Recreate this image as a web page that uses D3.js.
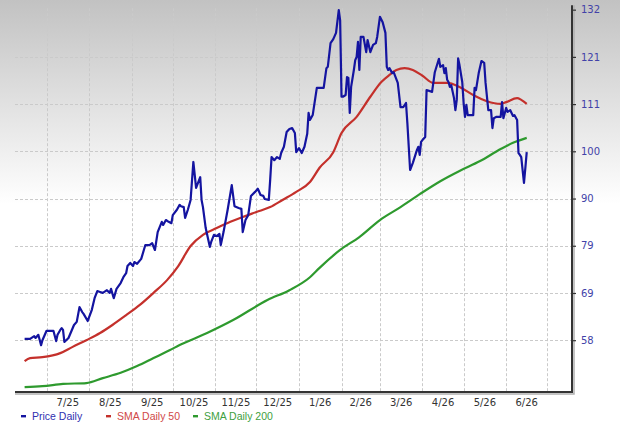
<!DOCTYPE html>
<html>
<head>
<meta charset="utf-8">
<script src="https://cdn.jsdelivr.net/npm/d3@7"></script>
<style>
  html, body { margin: 0; padding: 0; background: #fff; }
  svg { display: block; }
</style>
</head>
<body>
<div id="chart"></div>
<script>
// price and moving averages
const priceDaily = [
  ["2025-06-15",58.3],["2025-06-19",58.3],["2025-06-22",58.9],["2025-06-23",58.5],["2025-06-25",59.2],["2025-06-27",56.9],["2025-06-28",58.0],
  ["2025-07-01",60.1],["2025-07-04",60.1],["2025-07-06",60.1],["2025-07-08",57.8],["2025-07-09",59.2],["2025-07-11",60.3],["2025-07-12",60.7],["2025-07-13",60.3],["2025-07-14",57.6],["2025-07-17",58.5],["2025-07-21",61.4],["2025-07-23",62.1],["2025-07-25",65.4],["2025-07-27",64.3],["2025-07-28",63.9],["2025-07-31",62.3],
  ["2025-08-03",64.8],["2025-08-05",67.4],["2025-08-07",69.0],["2025-08-09",68.8],["2025-08-11",68.6],["2025-08-14",69.2],["2025-08-16",68.6],["2025-08-17",69.5],["2025-08-19",67.4],["2025-08-21",69.5],["2025-08-24",70.8],["2025-08-26",72.1],["2025-08-28",73.0],["2025-08-29",74.6],["2025-08-31",75.3],
  ["2025-09-02",74.6],["2025-09-03",75.5],["2025-09-05",75.1],["2025-09-08",76.2],["2025-09-11",79.3],["2025-09-14",79.3],["2025-09-16",79.7],["2025-09-18",78.2],["2025-09-20",82.2],["2025-09-23",84.5],["2025-09-24",83.8],["2025-09-26",84.9],["2025-09-28",84.5],["2025-09-30",84.2],
  ["2025-10-01",86.0],["2025-10-04",87.2],["2025-10-06",88.3],["2025-10-07",88.0],["2025-10-09",87.8],["2025-10-10",85.4],["2025-10-12",87.2],["2025-10-14",89.4],["2025-10-16",97.9],["2025-10-18",92.1],["2025-10-21",94.5],["2025-10-22",89.4],["2025-10-23",87.8],["2025-10-25",83.1],["2025-10-28",78.9],["2025-10-29",80.0],["2025-10-31",81.6],
  ["2025-11-02",81.3],["2025-11-04",81.8],["2025-11-05",79.3],["2025-11-07",82.2],["2025-11-10",87.2],["2025-11-13",92.7],["2025-11-15",88.0],["2025-11-18",87.6],["2025-11-20",87.4],["2025-11-21",82.2],["2025-11-23",84.9],["2025-11-25",86.0],["2025-11-27",90.3],["2025-11-30",91.2],
  ["2025-12-02",91.9],["2025-12-04",90.5],["2025-12-06",90.3],["2025-12-07",89.6],["2025-12-10",89.4],["2025-12-11",93.9],["2025-12-12",99.0],["2025-12-14",98.3],["2025-12-16",99.0],["2025-12-18",98.6],["2025-12-19",99.9],["2025-12-21",101.3],["2025-12-23",104.6],["2025-12-25",105.3],["2025-12-27",105.5],["2025-12-29",104.4],["2025-12-30",100.1],
  ["2026-01-01",101.0],["2026-01-03",99.9],["2026-01-05",101.3],["2026-01-07",104.2],["2026-01-08",108.9],["2026-01-09",107.3],["2026-01-11",108.4],["2026-01-14",114.5],["2026-01-16",114.5],["2026-01-19",114.5],["2026-01-21",118.9],["2026-01-22",119.2],["2026-01-24",124.5],["2026-01-26",125.4],["2026-01-28",126.8],["2026-01-30",131.9],["2026-01-31",129.6],
  ["2026-02-01",112.5],["2026-02-02",112.5],["2026-02-04",112.9],["2026-02-05",116.9],["2026-02-06",116.7],["2026-02-07",108.9],["2026-02-08",114.7],["2026-02-10",118.5],["2026-02-11",120.7],["2026-02-12",121.4],["2026-02-13",124.8],["2026-02-14",118.5],["2026-02-15",125.9],["2026-02-17",125.9],["2026-02-19",122.5],["2026-02-20",125.2],["2026-02-22",122.5],["2026-02-24",124.1],["2026-02-26",124.5],["2026-02-27",125.9],
  ["2026-03-01",130.4],["2026-03-03",129.2],["2026-03-05",126.8],["2026-03-06",119.2],["2026-03-07",118.5],["2026-03-08",118.9],["2026-03-10",117.8],["2026-03-11",118.0],["2026-03-14",115.6],["2026-03-16",110.2],["2026-03-18",110.2],["2026-03-20",111.1],["2026-03-21",106.6],["2026-03-23",96.1],["2026-03-25",97.7],["2026-03-28",100.6],["2026-03-29",101.3],["2026-03-30",99.5],["2026-03-31",102.4],
  ["2026-04-01",102.8],["2026-04-03",103.5],["2026-04-04",114.0],["2026-04-08",113.6],["2026-04-10",118.0],["2026-04-13",121.0],["2026-04-14",119.2],["2026-04-16",119.6],["2026-04-17",117.8],["2026-04-18",118.9],["2026-04-19",116.3],["2026-04-20",115.8],["2026-04-21",114.7],["2026-04-22",115.1],["2026-04-24",112.2],["2026-04-25",109.5],["2026-04-26",111.8],["2026-04-27",121.1],["2026-04-28",119.6],["2026-04-30",115.8],
  ["2026-05-01",111.1],["2026-05-02",108.0],["2026-05-03",110.7],["2026-05-04",108.4],["2026-05-08",108.4],["2026-05-09",114.5],["2026-05-10",114.0],["2026-05-12",117.8],["2026-05-14",120.5],["2026-05-16",120.1],["2026-05-17",115.6],["2026-05-19",109.5],["2026-05-21",109.5],["2026-05-22",105.5],["2026-05-23",107.7],["2026-05-25",108.0],["2026-05-28",108.0],["2026-05-29",111.3],["2026-05-30",107.7],
  ["2026-06-01",110.0],["2026-06-02",109.1],["2026-06-04",109.5],["2026-06-06",108.2],["2026-06-07",108.4],["2026-06-09",107.3],["2026-06-10",99.9],["2026-06-11",99.5],["2026-06-12",99.0],["2026-06-14",93.2],["2026-06-15",96.6],["2026-06-16",100.1]
];

const smaDaily50 = [
  ["2025-06-15",53.3],["2025-06-19",54.0],["2025-06-28",54.2],["2025-07-11",55.1],["2025-07-20",56.5],["2025-07-30",58.0],
  ["2025-08-09",59.6],["2025-08-18",61.4],["2025-08-28",63.6],["2025-09-07",65.9],["2025-09-17",68.6],["2025-09-27",71.5],
  ["2025-10-05",74.6],["2025-10-14",79.1],["2025-10-23",81.6],["2025-11-02",83.1],["2025-11-12",84.5],["2025-11-21",85.6],
  ["2025-12-01",86.7],["2025-12-11",87.8],["2025-12-20",89.4],["2025-12-30",91.2],["2026-01-09",93.4],["2026-01-16",96.6],
  ["2026-01-26",100.1],["2026-02-01",104.4],["2026-02-12",108.0],["2026-02-22",112.5],["2026-03-02",115.8],["2026-03-08",117.4],
  ["2026-03-13",118.5],["2026-03-19",118.9],["2026-03-25",118.5],["2026-04-01",117.2],["2026-04-09",115.6],["2026-04-19",115.6],
  ["2026-04-28",114.7],["2026-05-08",112.9],["2026-05-18",111.5],["2026-05-28",110.9],["2026-06-01",111.3],["2026-06-09",112.2],
  ["2026-06-12",111.8],["2026-06-16",110.9]
];

const smaDaily200 = [
  ["2025-06-15",47.5],["2025-06-28",47.7],["2025-07-13",48.2],["2025-07-30",48.4],["2025-08-11",49.5],["2025-08-24",50.7],
  ["2025-09-05",52.2],["2025-09-17",54.0],["2025-09-29",55.8],["2025-10-06",56.9],["2025-10-26",59.6],["2025-11-14",62.5],
  ["2025-12-09",67.0],["2025-12-25",69.2],["2026-01-09",72.1],["2026-01-16",74.2],["2026-01-31",78.2],["2026-02-14",81.1],
  ["2026-03-01",84.9],["2026-03-16",87.8],["2026-03-30",90.7],["2026-04-14",93.6],["2026-04-28",95.9],["2026-05-13",98.1],
  ["2026-05-28",100.8],["2026-06-06",102.2],["2026-06-16",103.3]
];

const monthLabels = ["7/25","8/25","9/25","10/25","11/25","12/25","1/26","2/26","3/26","4/26","5/26","6/26"];
const yTickValues = [58, 68.57, 79.14, 89.71, 100.29, 110.86, 121.43, 132];

const seriesNames = ["Price Daily", "SMA Daily 50", "SMA Daily 200"];
const lineColors = ["#1414a0", "#c4302b", "#2e9a2e"];
const legendColors = ["#3030b0", "#d04848", "#3ea03e"];

const width = 620, height = 426;
const parse = d3.timeParse("%Y-%m-%d");

const svg = d3.select("#chart").append("svg")
    .attr("width", width)
    .attr("height", height);

// grey fade at the top
const grad = svg.append("defs").append("linearGradient")
    .attr("id", "bg")
    .attr("x1", 0).attr("y1", 0).attr("x2", 0).attr("y2", 1);
grad.append("stop").attr("offset", "0%").attr("stop-color", "#c2c2c2");
grad.append("stop").attr("offset", "48%").attr("stop-color", "#ffffff");
grad.append("stop").attr("offset", "100%").attr("stop-color", "#ffffff");

svg.append("rect")
    .attr("width", width)
    .attr("height", height)
    .attr("fill", "url(#bg)");

const plot = {left: 15, right: 572, top: 5.2, bottom: 392};

const x = d3.scaleTime()
    .domain([new Date(2025, 5, 8), new Date(2026, 6, 19)])
    .range([plot.left, plot.right]);

const y = d3.scaleLinear()
    .domain([46.4, 133])
    .range([plot.bottom, plot.top]);

// month boundaries: Jul 2025 .. Jul 2026
const monthStarts = d3.timeMonth.range(new Date(2025, 6, 1), new Date(2026, 6, 2));

// grid
const grid = svg.append("g")
    .attr("stroke", "#cacaca")
    .attr("stroke-width", 1)
    .attr("stroke-dasharray", "3,2");

grid.selectAll("line.v")
    .data(monthStarts)
    .join("line")
        .attr("class", "v")
        .attr("x1", d => Math.round(x(d)) + 0.5)
        .attr("x2", d => Math.round(x(d)) + 0.5)
        .attr("y1", plot.top + 3)
        .attr("y2", plot.bottom);

grid.selectAll("line.h")
    .data(yTickValues.slice(0, -1))
    .join("line")
        .attr("class", "h")
        .attr("x1", plot.left)
        .attr("x2", plot.right)
        .attr("y1", d => Math.round(y(d)) + 0.5)
        .attr("y2", d => Math.round(y(d)) + 0.5);

// lines: price drawn straight, moving averages smoothed
const priceLine = d3.line()
    .x(d => x(parse(d[0])))
    .y(d => y(d[1]));

const smaLine = d3.line()
    .curve(d3.curveMonotoneX)
    .x(d => x(parse(d[0])))
    .y(d => y(d[1]));

const series = [
    {data: priceDaily, gen: priceLine, color: lineColors[0]},
    {data: smaDaily50, gen: smaLine, color: lineColors[1]},
    {data: smaDaily200, gen: smaLine, color: lineColors[2]}
];

svg.append("g")
    .selectAll("path")
    .data(series.slice().reverse())
    .join("path")
        .attr("d", d => d.gen(d.data))
        .attr("fill", "none")
        .attr("stroke", d => d.color)
        .attr("stroke-width", 2.2)
        .attr("stroke-linejoin", "round");

// axes frame with a soft shadow
const frame = svg.append("g");
frame.append("path")
    .attr("d", `M${plot.left},${plot.bottom + 2}H${plot.right + 2}V${plot.top}`)
    .attr("fill", "none")
    .attr("stroke", "#b0b0b0")
    .attr("stroke-width", 1.5);
frame.append("path")
    .attr("d", `M${plot.left},${plot.bottom}H${plot.right}V${plot.top}`)
    .attr("fill", "none")
    .attr("stroke", "#333")
    .attr("stroke-width", 2);

// y axis on the right
const yAxis = d3.axisRight(y)
    .tickValues(yTickValues)
    .tickFormat(d3.format(".0f"))
    .tickSize(4)
    .tickPadding(5);

const yg = svg.append("g")
    .attr("transform", `translate(${plot.right},0)`)
    .call(yAxis);
yg.select(".domain").remove();
yg.selectAll(".tick line").attr("stroke", "#333").attr("stroke-width", 1.2);
yg.selectAll(".tick text")
    .attr("fill", "#4242a8")
    .style("font-family", "'DejaVu Sans', Verdana, sans-serif")
    .style("font-size", "10px");

// month labels, centred in each month
svg.append("g")
    .selectAll("text")
    .data(monthLabels)
    .join("text")
        .attr("x", (d, i) => (x(monthStarts[i]) + x(monthStarts[i + 1])) / 2)
        .attr("y", 405.5)
        .attr("text-anchor", "middle")
        .attr("fill", "#333")
        .style("font-family", "'DejaVu Sans', Verdana, sans-serif")
        .style("font-size", "10px")
        .text(d => d);

// legend
const legendX = [21, 106, 193];
const legend = svg.append("g")
    .selectAll("g")
    .data(seriesNames)
    .join("g")
        .attr("transform", (d, i) => `translate(${legendX[i]},416)`);

legend.append("rect")
    .attr("x", 0)
    .attr("y", -1)
    .attr("width", 5)
    .attr("height", 2.4)
    .attr("fill", (d, i) => lineColors[i]);

legend.append("text")
    .attr("x", 11)
    .attr("y", 3.5)
    .attr("fill", (d, i) => legendColors[i])
    .style("font-family", "'Liberation Sans', Arial, sans-serif")
    .style("font-size", "10.5px")
    .text(d => d);
</script>
</body>
</html>
